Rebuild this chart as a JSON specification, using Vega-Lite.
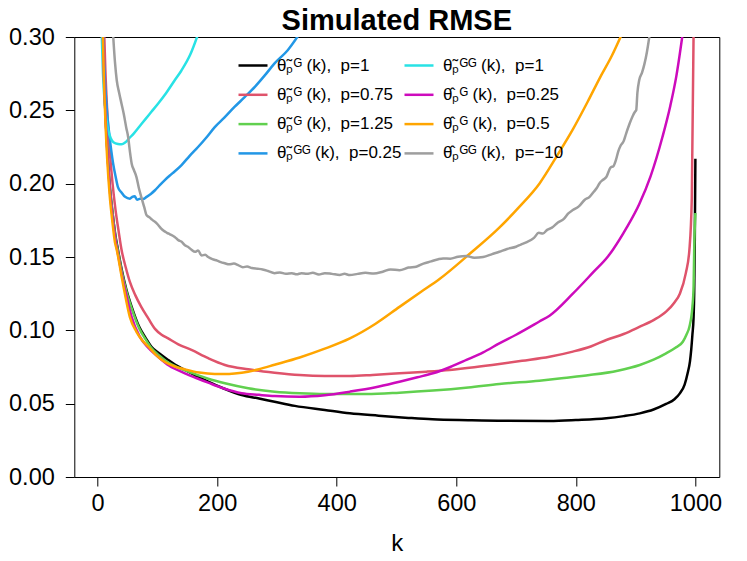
{
  "$schema": "https://vega.github.io/schema/vega-lite/v6.json",
  "width": 645,
  "height": 440,
  "autosize": "none",
  "padding": {"left": 74.3, "top": 37, "right": 27.7, "bottom": 84},
  "background": "white",
  "config": {
    "view": {"stroke": "black", "strokeWidth": 1},
    "font": "Liberation Sans",
    "axis": {"domain": false, "grid": false, "tickColor": "black", "tickSize": 9, "tickWidth": 1, "labelColor": "black", "labelFont": "Liberation Sans", "labelFontSize": 23.5, "titleColor": "black", "titleFont": "Liberation Sans", "titleFontWeight": "normal", "titleFontSize": 24}
  },
  "title": {"text": "Simulated RMSE", "fontSize": 29, "fontWeight": "bold", "font": "Liberation Sans", "anchor": "middle", "frame": "group", "offset": 0, "baseline": "bottom", "dy": 40, "color": "black"},
  "datasets": {
    "meta": [
      {"s": "a", "g": 1, "label": "\u03b8\u0303\u209a\u1d33 (k),\u00a0\u00a0p=1"},
      {"s": "b", "g": 1, "label": "\u03b8\u0303\u209a\u1d33 (k),\u00a0\u00a0p=0.75"},
      {"s": "c", "g": 1, "label": "\u03b8\u0303\u209a\u1d33 (k),\u00a0\u00a0p=1.25"},
      {"s": "d", "g": 1, "label": "\u03b8\u0303\u209a\u1d33\u1d33 (k),\u00a0\u00a0p=0.25"},
      {"s": "e", "g": 2, "label": "\u03b8\u0303\u209a\u1d33\u1d33 (k),\u00a0\u00a0p=1"},
      {"s": "f", "g": 2, "label": "\u03b8\u0302\u209a\u1d33 (k),\u00a0\u00a0p=0.25"},
      {"s": "g", "g": 2, "label": "\u03b8\u0302\u209a\u1d33 (k),\u00a0\u00a0p=0.5"},
      {"s": "h", "g": 2, "label": "\u03b8\u0302\u209a\u1d33\u1d33 (k),\u00a0\u00a0p=\u221210"}
    ],
    "rmse": [
      {"s":"a","k":9,"y":0.303},{"s":"a","k":10,"y":0.285},{"s":"a","k":13,"y":0.25},{"s":"a","k":16,"y":0.225},{"s":"a","k":20,"y":0.2},{"s":"a","k":25,"y":0.18},{"s":"a","k":30,"y":0.164},{"s":"a","k":34,"y":0.155},{"s":"a","k":40,"y":0.142},{"s":"a","k":48,"y":0.128},{"s":"a","k":57,"y":0.116},{"s":"a","k":70,"y":0.102},{"s":"a","k":80,"y":0.095},{"s":"a","k":90,"y":0.0888},{"s":"a","k":104,"y":0.084},{"s":"a","k":118,"y":0.0798},{"s":"a","k":130,"y":0.0765},{"s":"a","k":146,"y":0.073},{"s":"a","k":165,"y":0.069},{"s":"a","k":185,"y":0.065},{"s":"a","k":210,"y":0.0605},{"s":"a","k":241,"y":0.0559},{"s":"a","k":270,"y":0.0535},{"s":"a","k":296,"y":0.0513},{"s":"a","k":330,"y":0.0485},{"s":"a","k":380,"y":0.0457},{"s":"a","k":422,"y":0.0434},{"s":"a","k":470,"y":0.0418},{"s":"a","k":520,"y":0.0403},{"s":"a","k":560,"y":0.0393},{"s":"a","k":620,"y":0.0387},{"s":"a","k":680,"y":0.0383},{"s":"a","k":756,"y":0.0382},{"s":"a","k":800,"y":0.0388},{"s":"a","k":851,"y":0.04},{"s":"a","k":880,"y":0.0415},{"s":"a","k":907,"y":0.0434},{"s":"a","k":930,"y":0.046},{"s":"a","k":951,"y":0.0498},{"s":"a","k":965,"y":0.053},{"s":"a","k":974,"y":0.057},{"s":"a","k":982,"y":0.063},{"s":"a","k":987,"y":0.0707},{"s":"a","k":991,"y":0.079},{"s":"a","k":993,"y":0.0866},{"s":"a","k":995,"y":0.097},{"s":"a","k":997,"y":0.109},{"s":"a","k":998,"y":0.125},{"s":"a","k":999,"y":0.16},{"s":"a","k":1000,"y":0.217},
      {"s":"b","k":11,"y":0.303},{"s":"b","k":13,"y":0.277},{"s":"b","k":16,"y":0.25},{"s":"b","k":20,"y":0.224},{"s":"b","k":25,"y":0.2},{"s":"b","k":30,"y":0.182},{"s":"b","k":35,"y":0.168},{"s":"b","k":40,"y":0.155},{"s":"b","k":47,"y":0.143},{"s":"b","k":54,"y":0.133},{"s":"b","k":63,"y":0.124},{"s":"b","k":73,"y":0.116},{"s":"b","k":85,"y":0.108},{"s":"b","k":96,"y":0.101},{"s":"b","k":107,"y":0.097},{"s":"b","k":118,"y":0.0945},{"s":"b","k":135,"y":0.0905},{"s":"b","k":157,"y":0.0866},{"s":"b","k":185,"y":0.081},{"s":"b","k":213,"y":0.0764},{"s":"b","k":252,"y":0.0734},{"s":"b","k":296,"y":0.0711},{"s":"b","k":338,"y":0.0695},{"s":"b","k":380,"y":0.0689},{"s":"b","k":422,"y":0.0689},{"s":"b","k":460,"y":0.0696},{"s":"b","k":505,"y":0.0707},{"s":"b","k":550,"y":0.0718},{"s":"b","k":589,"y":0.073},{"s":"b","k":630,"y":0.0748},{"s":"b","k":672,"y":0.077},{"s":"b","k":710,"y":0.0792},{"s":"b","k":756,"y":0.082},{"s":"b","k":795,"y":0.0855},{"s":"b","k":825,"y":0.089},{"s":"b","k":851,"y":0.0934},{"s":"b","k":880,"y":0.0975},{"s":"b","k":907,"y":0.1025},{"s":"b","k":930,"y":0.107},{"s":"b","k":951,"y":0.1127},{"s":"b","k":965,"y":0.119},{"s":"b","k":974,"y":0.125},{"s":"b","k":984,"y":0.139},{"s":"b","k":990,"y":0.155},{"s":"b","k":994,"y":0.19},{"s":"b","k":997,"y":0.303},
      {"s":"c","k":9,"y":0.303},{"s":"c","k":10,"y":0.285},{"s":"c","k":13,"y":0.25},{"s":"c","k":16,"y":0.225},{"s":"c","k":20,"y":0.2},{"s":"c","k":25,"y":0.18},{"s":"c","k":30,"y":0.163},{"s":"c","k":34,"y":0.154},{"s":"c","k":40,"y":0.141},{"s":"c","k":48,"y":0.127},{"s":"c","k":57,"y":0.115},{"s":"c","k":70,"y":0.101},{"s":"c","k":80,"y":0.094},{"s":"c","k":90,"y":0.088},{"s":"c","k":104,"y":0.0825},{"s":"c","k":112,"y":0.0798},{"s":"c","k":130,"y":0.0755},{"s":"c","k":157,"y":0.0711},{"s":"c","k":185,"y":0.067},{"s":"c","k":213,"y":0.0639},{"s":"c","k":252,"y":0.0605},{"s":"c","k":296,"y":0.0582},{"s":"c","k":338,"y":0.0571},{"s":"c","k":380,"y":0.0566},{"s":"c","k":450,"y":0.0566},{"s":"c","k":505,"y":0.0575},{"s":"c","k":561,"y":0.0589},{"s":"c","k":620,"y":0.061},{"s":"c","k":672,"y":0.0634},{"s":"c","k":739,"y":0.0657},{"s":"c","k":780,"y":0.0675},{"s":"c","k":823,"y":0.0695},{"s":"c","k":870,"y":0.0725},{"s":"c","k":907,"y":0.0764},{"s":"c","k":930,"y":0.08},{"s":"c","k":951,"y":0.0843},{"s":"c","k":966,"y":0.088},{"s":"c","k":979,"y":0.0922},{"s":"c","k":985,"y":0.097},{"s":"c","k":990,"y":0.1025},{"s":"c","k":995,"y":0.116},{"s":"c","k":997,"y":0.13},{"s":"c","k":998,"y":0.155},{"s":"c","k":1000,"y":0.18},
      {"s":"d","k":9,"y":0.303},{"s":"d","k":10,"y":0.29},{"s":"d","k":13,"y":0.265},{"s":"d","k":16,"y":0.248},{"s":"d","k":20,"y":0.232},{"s":"d","k":26,"y":0.2136},{"s":"d","k":30,"y":0.205},{"s":"d","k":34,"y":0.1977},{"s":"d","k":40,"y":0.194},{"s":"d","k":46,"y":0.191},{"s":"d","k":54,"y":0.1898},{"s":"d","k":58,"y":0.191},{"s":"d","k":62,"y":0.1914},{"s":"d","k":66,"y":0.189},{"s":"d","k":71,"y":0.1898},{"s":"d","k":76,"y":0.1895},{"s":"d","k":82,"y":0.191},{"s":"d","k":89,"y":0.193},{"s":"d","k":96,"y":0.1955},{"s":"d","k":104,"y":0.199},{"s":"d","k":112,"y":0.2023},{"s":"d","k":125,"y":0.207},{"s":"d","k":140,"y":0.2125},{"s":"d","k":154,"y":0.219},{"s":"d","k":168,"y":0.225},{"s":"d","k":182,"y":0.2315},{"s":"d","k":196,"y":0.2386},{"s":"d","k":212,"y":0.245},{"s":"d","k":229,"y":0.2523},{"s":"d","k":246,"y":0.259},{"s":"d","k":263,"y":0.266},{"s":"d","k":280,"y":0.274},{"s":"d","k":296,"y":0.282},{"s":"d","k":318,"y":0.291},{"s":"d","k":339,"y":0.303},
      {"s":"e","k":6.8,"y":0.303},{"s":"e","k":9,"y":0.275},{"s":"e","k":12,"y":0.2545},{"s":"e","k":15,"y":0.243},{"s":"e","k":18,"y":0.236},{"s":"e","k":22,"y":0.231},{"s":"e","k":27,"y":0.228},{"s":"e","k":34,"y":0.227},{"s":"e","k":40,"y":0.2268},{"s":"e","k":46,"y":0.228},{"s":"e","k":53,"y":0.231},{"s":"e","k":60,"y":0.234},{"s":"e","k":70,"y":0.239},{"s":"e","k":80,"y":0.244},{"s":"e","k":90,"y":0.249},{"s":"e","k":101,"y":0.2545},{"s":"e","k":115,"y":0.262},{"s":"e","k":129,"y":0.2705},{"s":"e","k":140,"y":0.277},{"s":"e","k":155,"y":0.288},{"s":"e","k":169,"y":0.303},
      {"s":"f","k":9,"y":0.303},{"s":"f","k":10,"y":0.283},{"s":"f","k":13,"y":0.248},{"s":"f","k":16,"y":0.223},{"s":"f","k":20,"y":0.198},{"s":"f","k":25,"y":0.177},{"s":"f","k":30,"y":0.161},{"s":"f","k":34,"y":0.152},{"s":"f","k":40,"y":0.139},{"s":"f","k":48,"y":0.124},{"s":"f","k":57,"y":0.109},{"s":"f","k":70,"y":0.096},{"s":"f","k":85,"y":0.088},{"s":"f","k":101,"y":0.082},{"s":"f","k":120,"y":0.0758},{"s":"f","k":146,"y":0.0707},{"s":"f","k":165,"y":0.0675},{"s":"f","k":185,"y":0.0643},{"s":"f","k":210,"y":0.0605},{"s":"f","k":241,"y":0.0571},{"s":"f","k":270,"y":0.056},{"s":"f","k":296,"y":0.0552},{"s":"f","k":338,"y":0.0548},{"s":"f","k":380,"y":0.0558},{"s":"f","k":422,"y":0.0582},{"s":"f","k":465,"y":0.0612},{"s":"f","k":505,"y":0.065},{"s":"f","k":535,"y":0.068},{"s":"f","k":561,"y":0.0707},{"s":"f","k":590,"y":0.075},{"s":"f","k":617,"y":0.0798},{"s":"f","k":645,"y":0.085},{"s":"f","k":672,"y":0.0911},{"s":"f","k":700,"y":0.097},{"s":"f","k":739,"y":0.106},{"s":"f","k":756,"y":0.11},{"s":"f","k":795,"y":0.125},{"s":"f","k":830,"y":0.14},{"s":"f","k":853,"y":0.15},{"s":"f","k":862,"y":0.155},{"s":"f","k":885,"y":0.17},{"s":"f","k":906,"y":0.186},{"s":"f","k":925,"y":0.205},{"s":"f","k":945,"y":0.232},{"s":"f","k":958,"y":0.253},{"s":"f","k":968,"y":0.273},{"s":"f","k":979,"y":0.303},
      {"s":"g","k":8.7,"y":0.303},{"s":"g","k":10,"y":0.28},{"s":"g","k":13,"y":0.243},{"s":"g","k":16,"y":0.217},{"s":"g","k":20,"y":0.193},{"s":"g","k":25,"y":0.173},{"s":"g","k":29,"y":0.16},{"s":"g","k":32,"y":0.155},{"s":"g","k":40,"y":0.137},{"s":"g","k":47,"y":0.122},{"s":"g","k":54,"y":0.109},{"s":"g","k":65,"y":0.099},{"s":"g","k":75,"y":0.093},{"s":"g","k":85,"y":0.0888},{"s":"g","k":97,"y":0.0835},{"s":"g","k":112,"y":0.0786},{"s":"g","k":128,"y":0.0755},{"s":"g","k":146,"y":0.0734},{"s":"g","k":170,"y":0.0712},{"s":"g","k":196,"y":0.0702},{"s":"g","k":220,"y":0.0703},{"s":"g","k":241,"y":0.0711},{"s":"g","k":270,"y":0.0735},{"s":"g","k":296,"y":0.0765},{"s":"g","k":338,"y":0.0815},{"s":"g","k":380,"y":0.0875},{"s":"g","k":422,"y":0.0945},{"s":"g","k":465,"y":0.1045},{"s":"g","k":505,"y":0.116},{"s":"g","k":540,"y":0.126},{"s":"g","k":572,"y":0.135},{"s":"g","k":622,"y":0.152},{"s":"g","k":672,"y":0.17},{"s":"g","k":705,"y":0.184},{"s":"g","k":739,"y":0.2},{"s":"g","k":770,"y":0.22},{"s":"g","k":795,"y":0.237},{"s":"g","k":820,"y":0.256},{"s":"g","k":840,"y":0.272},{"s":"g","k":860,"y":0.287},{"s":"g","k":877,"y":0.302},
      {"s":"h","k":25.7,"y":0.303},{"s":"h","k":29,"y":0.283},{"s":"h","k":32,"y":0.2705},{"s":"h","k":36,"y":0.262},{"s":"h","k":40,"y":0.2545},{"s":"h","k":44,"y":0.247},{"s":"h","k":48,"y":0.238},{"s":"h","k":51,"y":0.232},{"s":"h","k":54,"y":0.222},{"s":"h","k":57,"y":0.2136},{"s":"h","k":61,"y":0.209},{"s":"h","k":65,"y":0.2045},{"s":"h","k":69,"y":0.197},{"s":"h","k":73,"y":0.191},{"s":"h","k":78,"y":0.184},{"s":"h","k":82,"y":0.1784},{"s":"h","k":87,"y":0.177},{"s":"h","k":91,"y":0.1755},{"s":"h","k":96,"y":0.174},{"s":"h","k":101,"y":0.172},{"s":"h","k":106,"y":0.1695},{"s":"h","k":110,"y":0.168},{"s":"h","k":116,"y":0.1665},{"s":"h","k":121,"y":0.1655},{"s":"h","k":129,"y":0.1637},{"s":"h","k":135,"y":0.1615},{"s":"h","k":140,"y":0.1605},{"s":"h","k":146,"y":0.158},{"s":"h","k":151,"y":0.157},{"s":"h","k":157,"y":0.155},{"s":"h","k":163,"y":0.1535},{"s":"h","k":168,"y":0.1545},{"s":"h","k":174,"y":0.151},{"s":"h","k":180,"y":0.1515},{"s":"h","k":185,"y":0.15},{"s":"h","k":192,"y":0.1485},{"s":"h","k":200,"y":0.1475},{"s":"h","k":206,"y":0.1465},{"s":"h","k":213,"y":0.1457},{"s":"h","k":220,"y":0.145},{"s":"h","k":228,"y":0.1455},{"s":"h","k":235,"y":0.1445},{"s":"h","k":243,"y":0.143},{"s":"h","k":250,"y":0.1435},{"s":"h","k":258,"y":0.1425},{"s":"h","k":268,"y":0.142},{"s":"h","k":276,"y":0.1415},{"s":"h","k":285,"y":0.1405},{"s":"h","k":296,"y":0.139},{"s":"h","k":305,"y":0.1395},{"s":"h","k":315,"y":0.1385},{"s":"h","k":325,"y":0.139},{"s":"h","k":333,"y":0.1382},{"s":"h","k":341,"y":0.139},{"s":"h","k":350,"y":0.1385},{"s":"h","k":360,"y":0.1392},{"s":"h","k":370,"y":0.138},{"s":"h","k":380,"y":0.139},{"s":"h","k":392,"y":0.1385},{"s":"h","k":405,"y":0.1378},{"s":"h","k":413,"y":0.1385},{"s":"h","k":422,"y":0.1377},{"s":"h","k":435,"y":0.1385},{"s":"h","k":448,"y":0.1392},{"s":"h","k":462,"y":0.1388},{"s":"h","k":477,"y":0.14},{"s":"h","k":490,"y":0.1415},{"s":"h","k":505,"y":0.141},{"s":"h","k":520,"y":0.1428},{"s":"h","k":533,"y":0.1434},{"s":"h","k":545,"y":0.1455},{"s":"h","k":558,"y":0.147},{"s":"h","k":570,"y":0.1485},{"s":"h","k":578,"y":0.149},{"s":"h","k":590,"y":0.1488},{"s":"h","k":603,"y":0.1502},{"s":"h","k":617,"y":0.1507},{"s":"h","k":630,"y":0.1495},{"s":"h","k":645,"y":0.15},{"s":"h","k":660,"y":0.152},{"s":"h","k":672,"y":0.1536},{"s":"h","k":685,"y":0.1555},{"s":"h","k":700,"y":0.157},{"s":"h","k":708,"y":0.1585},{"s":"h","k":717,"y":0.16},{"s":"h","k":730,"y":0.163},{"s":"h","k":738,"y":0.1665},{"s":"h","k":745,"y":0.166},{"s":"h","k":752,"y":0.1685},{"s":"h","k":760,"y":0.17},{"s":"h","k":770,"y":0.1735},{"s":"h","k":780,"y":0.176},{"s":"h","k":787,"y":0.1795},{"s":"h","k":795,"y":0.182},{"s":"h","k":805,"y":0.1845},{"s":"h","k":815,"y":0.189},{"s":"h","k":823,"y":0.191},{"s":"h","k":830,"y":0.1945},{"s":"h","k":835,"y":0.197},{"s":"h","k":840,"y":0.2005},{"s":"h","k":845,"y":0.2025},{"s":"h","k":851,"y":0.2045},{"s":"h","k":858,"y":0.211},{"s":"h","k":863,"y":0.212},{"s":"h","k":867,"y":0.216},{"s":"h","k":871,"y":0.222},{"s":"h","k":875,"y":0.226},{"s":"h","k":880,"y":0.229},{"s":"h","k":884,"y":0.234},{"s":"h","k":890,"y":0.241},{"s":"h","k":895,"y":0.246},{"s":"h","k":899,"y":0.249},{"s":"h","k":901,"y":0.25},{"s":"h","k":903,"y":0.262},{"s":"h","k":906,"y":0.2705},{"s":"h","k":911,"y":0.276},{"s":"h","k":915,"y":0.282},{"s":"h","k":919,"y":0.29},{"s":"h","k":924,"y":0.303}
    ]
  },
  "data": {"name": "rmse"},
  "transform": [
    {"lookup": "s", "from": {"data": {"name": "meta"}, "key": "s", "fields": ["label", "g"]}}
  ],
  "encoding": {
    "x": {"field": "k", "type": "quantitative", "scale": {"domain": [-39, 1040], "nice": false, "zero": false}, "axis": {"values": [0, 200, 400, 600, 800, 1000], "format": "d", "title": "k", "labelPadding": 5, "titlePadding": 17}},
    "y": {"field": "y", "type": "quantitative", "scale": {"domain": [0, 0.3], "nice": false}, "axis": {"values": [0, 0.05, 0.1, 0.15, 0.2, 0.25, 0.3], "format": ".2f", "title": null, "labelPadding": 11}},
    "order": {"field": "k", "type": "quantitative"}
  },
  "layer": [
    {
      "transform": [{"filter": "datum.g == 1"}],
      "mark": {"type": "line", "clip": true, "strokeWidth": 2.5, "interpolate": "monotone"},
      "encoding": {
        "color": {"field": "label", "type": "nominal",
          "scale": {"domain": ["\u03b8\u0303\u209a\u1d33 (k),\u00a0\u00a0p=1", "\u03b8\u0303\u209a\u1d33 (k),\u00a0\u00a0p=0.75", "\u03b8\u0303\u209a\u1d33 (k),\u00a0\u00a0p=1.25", "\u03b8\u0303\u209a\u1d33\u1d33 (k),\u00a0\u00a0p=0.25"], "range": ["#000000", "#DF536B", "#61D04F", "#2297E6"]},
          "legend": {"orient": "none", "legendX": 162.7, "legendY": 12.5, "title": null, "symbolType": "stroke", "symbolSize": 841, "symbolStrokeWidth": 2.5, "labelFontSize": 17, "labelColor": "black", "labelOffset": 8, "rowPadding": 5.3, "padding": 0, "labelLimit": 300}
        }
      }
    },
    {
      "transform": [{"filter": "datum.g == 2"}],
      "mark": {"type": "line", "clip": true, "strokeWidth": 2.5, "interpolate": "monotone"},
      "encoding": {
        "color": {"field": "label", "type": "nominal",
          "scale": {"domain": ["\u03b8\u0303\u209a\u1d33\u1d33 (k),\u00a0\u00a0p=1", "\u03b8\u0302\u209a\u1d33 (k),\u00a0\u00a0p=0.25", "\u03b8\u0302\u209a\u1d33 (k),\u00a0\u00a0p=0.5", "\u03b8\u0302\u209a\u1d33\u1d33 (k),\u00a0\u00a0p=\u221210"], "range": ["#28E2E5", "#CD0BBC", "#FFA500", "#9E9E9E"]},
          "legend": {"orient": "none", "legendX": 328.7, "legendY": 12.5, "title": null, "symbolType": "stroke", "symbolSize": 841, "symbolStrokeWidth": 2.5, "labelFontSize": 17, "labelColor": "black", "labelOffset": 8, "rowPadding": 5.3, "padding": 0, "labelLimit": 300}
        }
      }
    }
  ],
  "resolve": {"scale": {"color": "independent"}}
}
